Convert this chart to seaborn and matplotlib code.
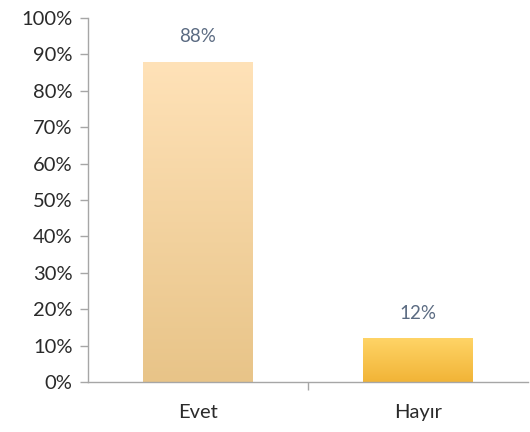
import numpy as np
import pandas as pd
import matplotlib
matplotlib.use("Agg")
import matplotlib.pyplot as plt
import seaborn as sns
from matplotlib.colors import LinearSegmentedColormap
from matplotlib.ticker import PercentFormatter, FixedLocator

categories = ["Evet", "Hayır"]
values = [88, 12]
labels = ["88%", "12%"]
# gradient colours per bar: (top, bottom)
bar_colors = [("#FFE2B8", "#E8C488"), ("#FFD466", "#F1B437")]

sns.set_style("white")
plt.rcParams["font.family"] = ["Lato", "DejaVu Sans"]

df = pd.DataFrame({"cat": categories, "val": values})

fig = plt.figure(figsize=(5.3, 4.32), dpi=100)
ax = fig.add_axes([0.166, 0.1157, 0.83, 0.8426])

sns.barplot(data=df, x="cat", y="val", ax=ax, width=0.5, color="white",
            edgecolor="none", zorder=1)

# gradient fill clipped to each bar
for patch, (top, bottom) in zip(ax.patches, bar_colors):
    x0, y0 = patch.get_x(), patch.get_y()
    w, h = patch.get_width(), patch.get_height()
    cmap = LinearSegmentedColormap.from_list("g", [bottom, top])
    grad = np.linspace(0, 1, 256).reshape(-1, 1)
    im = ax.imshow(grad, cmap=cmap, aspect="auto", origin="lower",
                   extent=[x0, x0 + w, y0, y0 + h], zorder=2)
    im.set_clip_path(patch)

for i, (v, lab) in enumerate(zip(values, labels)):
    ax.annotate(lab, (i, v), xytext=(0, 18), textcoords="offset points",
                ha="center", va="center", fontsize=13.5, color="#5B6B82")

ax.set_xlim(-0.5, 1.5)
ax.set_ylim(0, 100)
ax.yaxis.set_major_locator(FixedLocator(range(0, 101, 10)))
ax.yaxis.set_major_formatter(PercentFormatter(decimals=0))
ax.set_xlabel("")
ax.set_ylabel("")

for s in ["top", "right"]:
    ax.spines[s].set_visible(False)
for s in ["left", "bottom"]:
    ax.spines[s].set_color("#A6A6A6")
    ax.spines[s].set_linewidth(1)

ax.tick_params(axis="y", which="major", length=6, width=1, color="#A6A6A6",
               direction="out", left=True, labelsize=14.5, labelcolor="#2A2A2A",
               pad=5)
ax.tick_params(axis="x", which="major", length=0, labelsize=14.5,
               labelcolor="#2A2A2A", pad=16)
ax.xaxis.set_minor_locator(FixedLocator([0.5]))
ax.tick_params(axis="x", which="minor", length=6, width=1, color="#A6A6A6",
               direction="out", bottom=True)

fig.savefig("out.png", dpi=100)
